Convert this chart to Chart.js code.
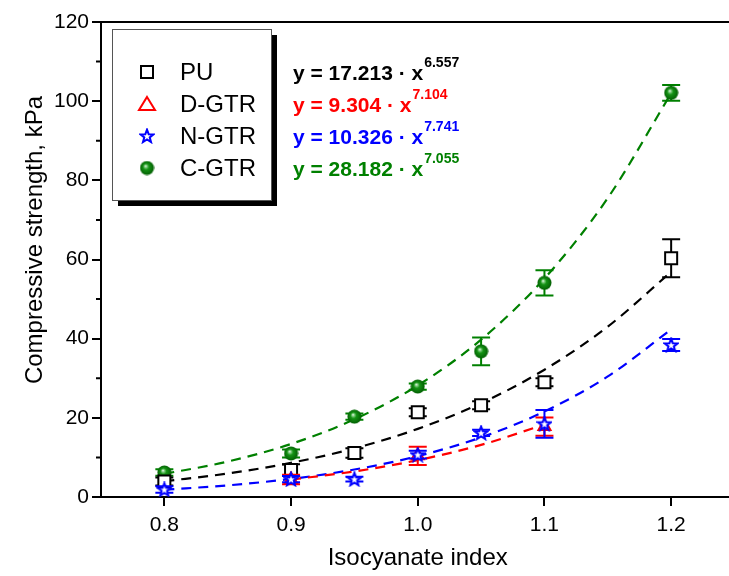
<!DOCTYPE html>
<html>
<head>
<meta charset="utf-8">
<script src="https://cdn.jsdelivr.net/npm/chart.js@4.4.0/dist/chart.umd.min.js"></script>
<style>
    html, body { margin: 0; padding: 0; background: #fff; overflow: hidden; }
    #wrap { width: 745px; height: 576px; }
</style>
</head>
<body>
<div id="wrap"><canvas id="strengthChart" width="745" height="576"></canvas></div>
<script>
// Measured points (isocyanate index vs compressive strength, kPa)
const isoIndex = [0.8, 0.9, 0.95, 1.0, 1.05, 1.1, 1.2];
const puValues = [3.9, 6.8, 11.1, 21.4, 23.2, 29.0, 60.3];
const puErrors = [1.0, 1.5, 1.2, 1.0, 1.0, 1.0, 4.8];
const dgtrIndex = [0.9, 1.0, 1.1];
const dgtrValues = [4.4, 10.4, 17.8];
const dgtrErrors = [1.2, 2.3, 2.3];
const ngtrValues = [1.9, 4.5, 4.5, 10.7, 16.2, 18.5, 38.4];
const ngtrErrors = [0.8, 0.8, 0.6, 1.0, 0.8, 3.5, 1.5];
const cgtrValues = [6.2, 11.0, 20.3, 27.9, 36.8, 54.1, 102.1];
const cgtrErrors = [0.8, 1.0, 0.8, 0.8, 3.5, 3.2, 2.0];

// Fitted curves
const fitIndex = [0.8, 0.85, 0.9, 0.95, 1.0, 1.05, 1.1, 1.15, 1.2];
const puFit = [3.98, 5.93, 8.63, 12.30, 17.21, 23.70, 32.16, 43.04, 56.89];
const ngtrFit = [1.84, 2.94, 4.57, 6.94, 10.33, 15.06, 21.60, 30.46, 42.35];
const cgtrFit = [5.84, 8.95, 13.40, 19.63, 28.18, 39.76, 55.21, 75.54, 102.0];
const dgtrFitIndex = [0.9, 0.95, 1.0, 1.05, 1.1];
const dgtrFit = [4.40, 6.46, 9.30, 13.16, 18.31];

const xTicks = [0.8, 0.9, 1.0, 1.1, 1.2];
const yTicks = [0, 20, 40, 60, 80, 100, 120];
const yMinorTicks = [10, 30, 50, 70, 90, 110];

const seriesNames = ['PU', 'D-GTR', 'N-GTR', 'C-GTR'];
const eqCoeffs = ['17.213', '9.304', '10.326', '28.182'];
const eqExponents = ['6.557', '7.104', '7.741', '7.055'];
const seriesColors = ['#000000', '#ff0000', '#0000ff', '#008000'];

const FONT = 'Arial, "Liberation Sans", sans-serif';

const toPoints = (xs, ys) => xs.map((x, i) => ({ x: x, y: ys[i] }));

// Marker images
function makeStar(size, color) {
    const c = document.createElement('canvas');
    c.width = size; c.height = size;
    const g = c.getContext('2d');
    const cx = size / 2, cy = size / 2 + 0.5;
    const R = size / 2 - 1.2, r = R * 0.42;
    g.beginPath();
    for (let k = 0; k < 10; k++) {
        const ang = -Math.PI / 2 + k * Math.PI / 5;
        const rad = k % 2 === 0 ? R : r;
        const px = cx + rad * Math.cos(ang), py = cy + rad * Math.sin(ang);
        if (k === 0) g.moveTo(px, py); else g.lineTo(px, py);
    }
    g.closePath();
    g.fillStyle = '#fff';
    g.fill();
    g.lineWidth = 2;
    g.strokeStyle = color;
    g.stroke();
    return c;
}

function makeSphere(size) {
    const c = document.createElement('canvas');
    c.width = size; c.height = size;
    const g = c.getContext('2d');
    const grad = g.createRadialGradient(size * 0.4, size * 0.36, 0, size * 0.5, size * 0.5, size * 0.5);
    grad.addColorStop(0, '#ffffff');
    grad.addColorStop(0.15, '#8fd48f');
    grad.addColorStop(0.4, '#159315');
    grad.addColorStop(1, '#005a00');
    g.beginPath();
    g.arc(size / 2, size / 2, size / 2 - 0.5, 0, Math.PI * 2);
    g.fillStyle = grad;
    g.fill();
    return c;
}

const starImg = makeStar(16, '#0000ff');
const sphereImg = makeSphere(15);

// Error bars, drawn right before each point dataset
const errorBars = {
    id: 'errorBars',
    beforeDatasetDraw(chart, args) {
        const ds = chart.data.datasets[args.index];
        if (!ds.errors) return;
        const { ctx, scales: { x, y } } = chart;
        ctx.save();
        ctx.strokeStyle = ds.borderColor;
        ctx.lineWidth = 2;
        ds.data.forEach((p, i) => {
            const px = x.getPixelForValue(p.x);
            const top = y.getPixelForValue(p.y + ds.errors[i]);
            const bot = y.getPixelForValue(p.y - ds.errors[i]);
            ctx.beginPath();
            ctx.moveTo(px, top); ctx.lineTo(px, bot);
            ctx.moveTo(px - 9, top); ctx.lineTo(px + 9, top);
            ctx.moveTo(px - 9, bot); ctx.lineTo(px + 9, bot);
            ctx.stroke();
        });
        ctx.restore();
    }
};

// Frame, minor ticks, axis titles and the boxed legend with fit equations
const decorations = {
    id: 'decorations',
    afterDraw(chart) {
        const { ctx, chartArea: area, scales: { y } } = chart;
        ctx.save();
        ctx.strokeStyle = '#000';
        ctx.lineWidth = 2;
        ctx.beginPath();
        ctx.moveTo(area.left - 1, area.top);
        ctx.lineTo(area.right, area.top);
        ctx.lineTo(area.right, area.bottom);
        ctx.stroke();

        // minor y ticks
        ctx.beginPath();
        yMinorTicks.forEach(v => {
            const py = y.getPixelForValue(v);
            ctx.moveTo(area.left - 5, py);
            ctx.lineTo(area.left, py);
        });
        ctx.stroke();

        // axis titles
        ctx.fillStyle = '#000';
        ctx.font = '24px ' + FONT;
        ctx.textAlign = 'center';
        ctx.textBaseline = 'middle';
        ctx.fillText('Isocyanate index', (area.left + area.right) / 2, 558);
        ctx.save();
        ctx.translate(35, 240);
        ctx.rotate(-Math.PI / 2);
        ctx.fillText('Compressive strength, kPa', 0, 0);
        ctx.restore();

        // legend box with shadow
        const bx = 112, by = 29, bw = 159, bh = 171;
        ctx.fillStyle = '#000';
        ctx.fillRect(bx + 6, by + 6, bw, bh);
        ctx.fillStyle = '#fff';
        ctx.fillRect(bx, by, bw, bh);
        ctx.lineWidth = 1;
        ctx.strokeStyle = '#555';
        ctx.strokeRect(bx + 0.5, by + 0.5, bw, bh);

        const rows = [72, 104, 136, 168];
        const sx = 147;
        // PU square
        ctx.lineWidth = 2;
        ctx.strokeStyle = '#000';
        ctx.strokeRect(sx - 6, rows[0] - 6, 12, 12);
        // D-GTR triangle
        ctx.strokeStyle = '#ff0000';
        ctx.beginPath();
        ctx.moveTo(sx, rows[1] - 7);
        ctx.lineTo(sx + 8, rows[1] + 6);
        ctx.lineTo(sx - 8, rows[1] + 6);
        ctx.closePath();
        ctx.stroke();
        // N-GTR star and C-GTR sphere
        ctx.drawImage(starImg, sx - 8, rows[2] - 8);
        ctx.drawImage(sphereImg, sx - 7.5, rows[3] - 7.5);

        ctx.textAlign = 'left';
        ctx.textBaseline = 'middle';
        ctx.fillStyle = '#000';
        ctx.font = '24px ' + FONT;
        seriesNames.forEach((name, i) => ctx.fillText(name, 180, rows[i] + 1));

        // fit equations
        seriesNames.forEach((name, i) => {
            const base = 'y = ' + eqCoeffs[i] + ' \u00b7 x';
            ctx.fillStyle = seriesColors[i];
            ctx.font = 'bold 21px ' + FONT;
            ctx.textBaseline = 'alphabetic';
            ctx.fillText(base, 293, rows[i] + 8);
            const w = ctx.measureText(base).width;
            ctx.font = 'bold 14px ' + FONT;
            ctx.fillText(eqExponents[i], 293 + w + 1, rows[i] - 5);
        });
        ctx.restore();
    }
};

const fitLine = (data, color) => ({
    type: 'line',
    data: data,
    borderColor: color,
    borderWidth: 2.2,
    borderDash: [10, 7],
    pointRadius: 0,
    fill: false,
    cubicInterpolationMode: 'monotone',
    order: 10
});

const ctx = document.getElementById('strengthChart').getContext('2d');
new Chart(ctx, {
    type: 'scatter',
    data: {
        datasets: [
            fitLine(toPoints(fitIndex, cgtrFit), '#008000'),
            fitLine(toPoints(fitIndex, puFit), '#000000'),
            fitLine(toPoints(dgtrFitIndex, dgtrFit), '#ff0000'),
            fitLine(toPoints(fitIndex, ngtrFit), '#0000ff'),
            {
                label: 'C-GTR',
                data: toPoints(isoIndex, cgtrValues),
                errors: cgtrErrors,
                borderColor: '#008000',
                pointStyle: sphereImg,
                pointRadius: 7,
                order: 4
            },
            {
                label: 'PU',
                data: toPoints(isoIndex, puValues),
                errors: puErrors,
                borderColor: '#000000',
                backgroundColor: '#ffffff',
                pointStyle: 'rect',
                pointRadius: 8.5,
                pointBorderWidth: 2,
                order: 3
            },
            {
                label: 'D-GTR',
                data: toPoints(dgtrIndex, dgtrValues),
                errors: dgtrErrors,
                borderColor: '#ff0000',
                backgroundColor: '#ffffff',
                pointStyle: 'triangle',
                pointRadius: 7,
                pointBorderWidth: 2,
                order: 2
            },
            {
                label: 'N-GTR',
                data: toPoints(isoIndex, ngtrValues),
                errors: ngtrErrors,
                borderColor: '#0000ff',
                pointStyle: starImg,
                pointRadius: 8,
                order: 1
            }
        ]
    },
    options: {
        responsive: false,
        animation: false,
        events: [],
        layout: { padding: { top: 22, right: 6, left: 0, bottom: 0 } },
        plugins: {
            legend: { display: false },
            tooltip: { enabled: false }
        },
        scales: {
            x: {
                type: 'linear',
                min: 0.75,
                max: 1.25,
                afterBuildTicks: scale => { scale.ticks = xTicks.map(v => ({ value: v })); },
                afterFit: scale => { scale.height = 79; },
                ticks: {
                    color: '#000',
                    font: { family: FONT, size: 21 },
                    padding: 7,
                    maxRotation: 0,
                    callback: v => v.toFixed(1)
                },
                grid: { drawOnChartArea: false, tickLength: 9, color: '#000', lineWidth: 2 },
                border: { display: true, color: '#000', width: 2 }
            },
            y: {
                type: 'linear',
                min: 0,
                max: 120,
                afterBuildTicks: scale => { scale.ticks = yTicks.map(v => ({ value: v })); },
                afterFit: scale => { scale.width = 101; },
                ticks: {
                    color: '#000',
                    font: { family: FONT, size: 21 },
                    padding: 3,
                    callback: v => String(v)
                },
                grid: { drawOnChartArea: false, tickLength: 9, color: '#000', lineWidth: 2 },
                border: { display: true, color: '#000', width: 2 }
            }
        }
    },
    plugins: [errorBars, decorations]
});
</script>
</body>
</html>
